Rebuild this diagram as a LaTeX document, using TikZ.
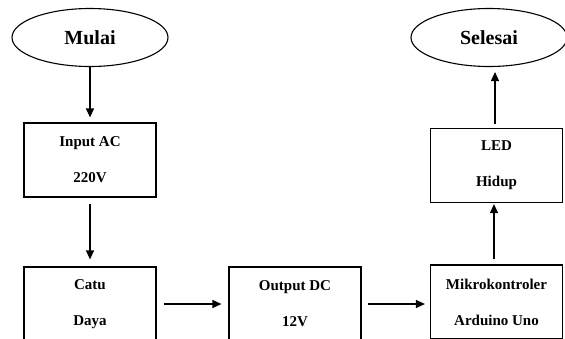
\documentclass[tikz,border=0pt]{standalone}
\usepackage{fontspec}
\setmainfont{Liberation Serif}
\usetikzlibrary{shapes.geometric,arrows.meta}
\tikzset{
  terminal/.style={ellipse,draw,line width=1.1pt,minimum width=156pt,minimum height=58pt,
    inner sep=0pt,font=\bfseries\fontsize{20}{24}\selectfont},
  block/.style={rectangle,draw,line width=1.2pt,minimum width=132pt,minimum height=74pt,
    inner sep=0pt,align=center,font=\bfseries\fontsize{15}{36}\selectfont},
  flow/.style={line width=1.2pt,-{Triangle[length=9pt,width=8pt]}}
}
\begin{document}
\begin{tikzpicture}[x=1pt,y=-1pt]
  \useasboundingbox (0,0) rectangle (565,338);
  \clip (0,0) rectangle (565,338);
  % start / end terminals
  \node[terminal] (mulai) at (90,37.5) {Mulai};
  \node[terminal] (selesai) at (489,37.5) {Selesai};
  % process blocks
  \node[block] (input) at (90,160) {Input AC\\220V};
  \node[block] (catu) at (90,304) {Catu\\Daya};
  \node[block] (output) at (295,304) {Output DC\\12V};
  \node[block] (mikro) at (496.5,302) {Mikrokontroler\\Arduino Uno};
  \node[block] (led) at (496.5,165.5) {LED\\Hidup};
  % connectors
  \draw[flow,shorten >=5pt] (mulai.south) -- (input.north);
  \draw[flow,shorten <=6pt,shorten >=7pt] (input.south) -- (catu.north);
  \draw[flow,shorten <=7pt,shorten >=7pt] (catu.east |- output.west) -- (output.west);
  \draw[flow,shorten <=6pt,shorten >=5pt] (output.east) -- (output.east -| mikro.west);
  \draw[flow,shorten <=5pt,shorten >=1pt] ([xshift=-2.5pt]mikro.north) -- ([xshift=-2.5pt]led.south);
  \draw[flow,shorten <=4pt,shorten >=5pt] ([xshift=-1.5pt]led.north) -- ([xshift=-1.5pt]led.north |- selesai.south);
\end{tikzpicture}
\end{document}
